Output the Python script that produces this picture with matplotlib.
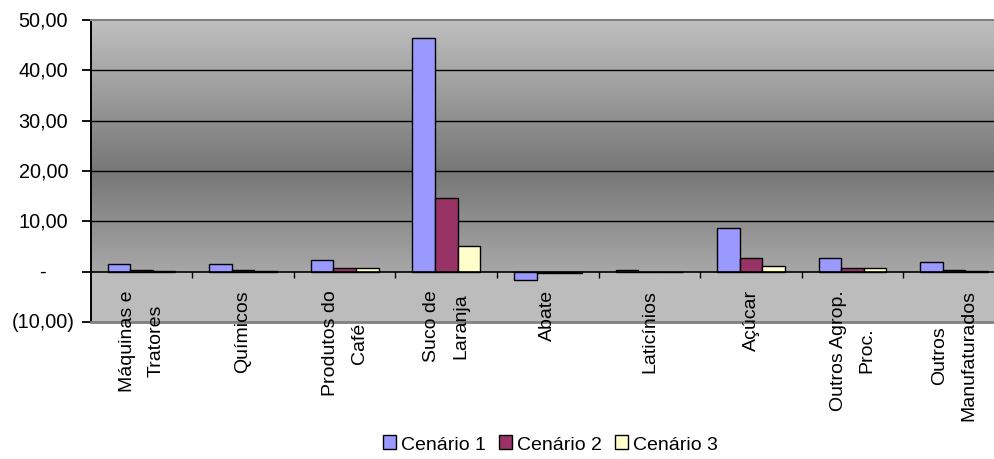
import numpy as np
import matplotlib
matplotlib.use("Agg")
import matplotlib.pyplot as plt
from matplotlib.colors import LinearSegmentedColormap
from matplotlib.patches import Patch
import matplotlib.transforms as mtransforms

plt.rcParams['font.family'] = ['Liberation Sans', 'DejaVu Sans']

categories = ["Máquinas e\nTratores", "Químicos", "Produtos do\nCafé", "Suco de\nLaranja",
              "Abate", "Laticínios", "Açúcar", "Outros Agrop.\nProc.", "Outros\nManufaturados"]
cenario1 = [1.5, 1.5, 2.3, 46.5, -1.6, 0.4, 8.7, 2.7, 1.9]
cenario2 = [0.3, 0.3, 0.7, 14.7, -0.3, 0.02, 2.7, 0.7, 0.3]
cenario3 = [0.2, 0.2, 0.7, 5.1, -0.2, 0.01, 1.1, 0.7, 0.2]
series_names = ["Cenário 1", "Cenário 2", "Cenário 3"]
series_colors = ["#9999FF", "#993366", "#FFFFCC"]
yticks = [-10, 0, 10, 20, 30, 40, 50]
ytick_labels = ["(10,00)", "-", "10,00", "20,00", "30,00", "40,00", "50,00"]

W, H = 995, 460
fig = plt.figure(figsize=(W / 100, H / 100), dpi=100)
left_px, top_px, bot_px, right_px = 90.7, 21, 323, 1005
ax = fig.add_axes([left_px / W, 1 - bot_px / H, (right_px - left_px) / W, (bot_px - top_px) / H])

n = len(categories)
ax.set_xlim(0, n)
ax.set_ylim(-10, 50)

# gradient background (light at edges, dark in the middle)
grad = np.abs(np.linspace(-1, 1, 256)).reshape(-1, 1)
cmap = LinearSegmentedColormap.from_list("g", ["#777777", "#bfbfbf"])
ax.imshow(grad, extent=[0, n, -10, 50], aspect='auto', cmap=cmap, vmin=0, vmax=1,
          origin='lower', zorder=0, interpolation='bilinear')
ax.axhspan(-10, 0, color="#bcbcbc", zorder=0.5, lw=0)

# gridlines
for v in [10, 20, 30, 40]:
    ax.axhline(v, color='black', lw=1.0, zorder=1)
ax.axhline(0, color='black', lw=1.2, zorder=3)

# bars
bw = 1 / 4.5
centers = np.arange(n) + 0.5
for i, (vals, col) in enumerate(zip([cenario1, cenario2, cenario3], series_colors)):
    ax.bar(centers + (i - 1) * bw, vals, width=bw, color=col, edgecolor='black',
           linewidth=1.0, zorder=2)

# spines / borders
for s in ['right', 'bottom']:
    ax.spines[s].set_visible(False)
ax.spines['top'].set_color('#808080')
ax.spines['top'].set_linewidth(1.5)
ax.spines['left'].set_color('black')
ax.spines['left'].set_linewidth(1.4)
ax.axhline(-10, color='#808080', lw=2.0, zorder=4, clip_on=False)

# y ticks (accounting-style labels)
ax.set_yticks(yticks)
ax.set_yticklabels([])
ax.tick_params(axis='y', direction='out', length=6.5, width=1.3, color='black')
offsets = {"pos": -16.3, "neg": -11.3, "zero": -32.2}
for v, lab in zip(yticks, ytick_labels):
    key = "neg" if v < 0 else ("zero" if v == 0 else "pos")
    tr = mtransforms.offset_copy(ax.get_yaxis_transform(), fig=fig, x=offsets[key], y=0, units='points')
    ax.text(0, v, lab, transform=tr, ha='right', va='center', fontsize=14.3, color='black',
            clip_on=False)

# x tick marks at category boundaries on the zero line
ax.set_xticks([])
ax.vlines(np.arange(1, n), ymin=-1.3, ymax=0, colors='black', lw=1.0, zorder=3)

# category labels
xtr = ax.get_xaxis_transform()
for c, lab in zip(centers, categories):
    ax.text(c, (bot_px - 290) / (bot_px - top_px), lab, transform=xtr, rotation=90,
            ha='center', va='top', multialignment='center', fontsize=14,
            linespacing=1.9, zorder=5, clip_on=False)

# legend
handles = [Patch(facecolor=c, edgecolor='black', linewidth=1.0) for c in series_colors]
fig.legend(handles, series_names, loc='center', bbox_to_anchor=(550 / W, 1 - 445 / H),
           ncol=3, frameon=False, fontsize=14, handlelength=0.67, handleheight=0.67,
           handletextpad=0.26, columnspacing=0.67, borderpad=0, borderaxespad=0)

fig.savefig("out.png", dpi=100)
